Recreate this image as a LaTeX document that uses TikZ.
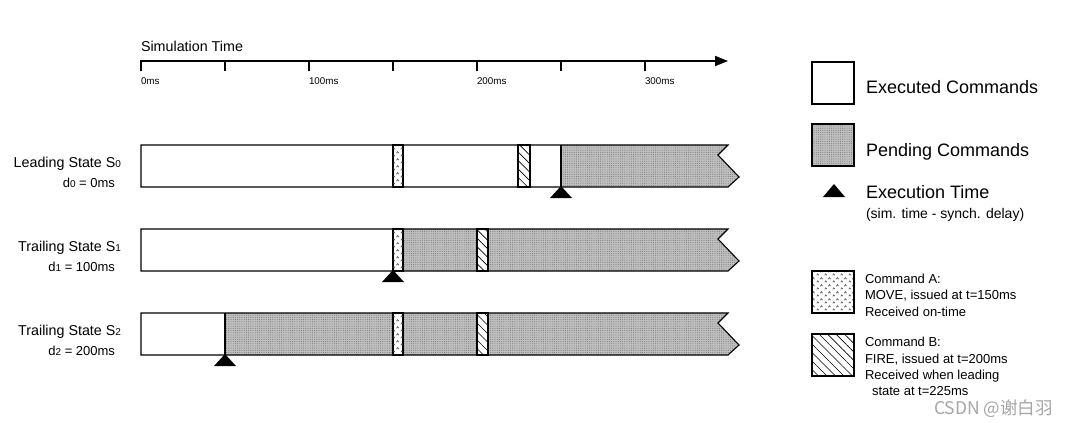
\documentclass[tikz,border=0pt]{standalone}
\usepackage{fontspec}
\setmainfont{Liberation Sans}
\newfontfamily\cjk{Noto Sans CJK SC}
\usetikzlibrary{patterns,patterns.meta,arrows.meta}
\pgfdeclarepatternformonly{caretmarks}{\pgfqpoint{0pt}{0pt}}{\pgfqpoint{8pt}{7pt}}{\pgfqpoint{8pt}{7pt}}{%
  \pgfsetlinewidth{0.6pt}%
  \pgfpathmoveto{\pgfqpoint{0.8pt}{0.8pt}}\pgfpathlineto{\pgfqpoint{2pt}{2.5pt}}\pgfpathlineto{\pgfqpoint{3.2pt}{0.8pt}}%
  \pgfpathmoveto{\pgfqpoint{4.8pt}{4.3pt}}\pgfpathlineto{\pgfqpoint{6pt}{6pt}}\pgfpathlineto{\pgfqpoint{7.2pt}{4.3pt}}%
  \pgfusepath{stroke}}
\newcommand\sbs[1]{{\fontsize{10}{10}\selectfont #1}}
\tikzset{
  x=1pt, y=-1pt,
  txt/.style={inner sep=0pt, outer sep=0pt, anchor=base west},
  rtxt/.style={inner sep=0pt, outer sep=0pt, anchor=base east},
  lab/.style={rtxt, font=\fontsize{14.3}{16}\selectfont},
  dlab/.style={rtxt, font=\fontsize{13}{15}\selectfont},
  ticklab/.style={txt, font=\fontsize{9.8}{11}\selectfont},
  legbig/.style={txt, font=\fontsize{18}{20}\selectfont},
  legsmall/.style={txt, font=\fontsize{14}{16}\selectfont},
  cmdtxt/.style={txt, font=\fontsize{13}{15}\selectfont},
  barline/.style={line width=1.1pt},
  boxline/.style={line width=1.3pt},
  pend/.style={fill=black!25, postaction={pattern={Dots[distance=2.2pt,radius=0.45pt]}, pattern color=black!60}},
  cmdA/.style={fill=white, postaction={pattern=caretmarks, pattern color=black!75}},
  cmdB/.style={fill=white, postaction={pattern={Lines[angle=-45,distance=6pt,line width=0.6pt]}, pattern color=black}},
  barshape/.style={insert path={(141,#1) -- (728,#1) -- (718,#1+10) -- (739,#1+32) -- (728,#1+42) -- (141,#1+42) -- cycle}},
  exmark/.style={fill=black},
}
\begin{document}
\begin{tikzpicture}
\useasboundingbox (0,0) rectangle (1080,423);
\fill[white] (0,0) rectangle (1080,423);

% time axis
\node[txt, font=\fontsize{14.3}{16}\selectfont] (simtime) at (141,51) {Simulation Time};
\coordinate (ax0) at (141,61);
\coordinate (ax1) at (728,61);
\draw[line width=1.8pt, -{Triangle[length=13pt,width=10pt]}] (ax0) -- (ax1);
\foreach \i in {0,...,6} \draw[line width=1.3pt] (141+84*\i,60) -- (141+84*\i,71);
\node[ticklab] (t0) at (141,84) {0ms};
\node[ticklab] (t100) at (309,84) {100ms};
\node[ticklab] (t200) at (477,84) {200ms};
\node[ticklab] (t300) at (645,84) {300ms};

% row labels
\node[lab] (l0) at (121,167) {Leading State S\sbs{0}};
\node[dlab] (d0) at (115,187) {d\sbs{0} = 0ms};
\node[lab] (l1) at (121,251) {Trailing State S\sbs{1}};
\node[dlab] (d1) at (115,271) {d\sbs{1} = 100ms};
\node[lab] (l2) at (121,335) {Trailing State S\sbs{2}};
\node[dlab] (d2) at (115,355) {d\sbs{2} = 200ms};

% bar S0
\begin{scope}
  \clip[barshape=145];
  \path[pend] (561,145) rectangle (745,187);
\end{scope}
\draw[barline,cmdA] (393,145) rectangle (403,187);
\draw[barline,cmdB] (518,145) rectangle (530,187);
\draw[barline] (561,145) -- (561,187);
\draw[barline, line join=miter][barshape=145];
\fill[exmark] (561,186) -- (550,198) -- (572,198) -- cycle;

% bar S1
\begin{scope}
  \clip[barshape=229];
  \path[pend] (403,229) rectangle (745,271);
\end{scope}
\draw[barline,cmdA] (393,229) rectangle (403,271);
\draw[barline,cmdB] (477,229) rectangle (488,271);
\draw[barline, line join=miter][barshape=229];
\fill[exmark] (393,270) -- (382,282) -- (404,282) -- cycle;

% bar S2
\begin{scope}
  \clip[barshape=313];
  \path[pend] (225,313) rectangle (745,355);
\end{scope}
\draw[barline] (225,313) -- (225,355);
\draw[barline,cmdA] (393,313) rectangle (403,355);
\draw[barline,cmdB] (477,313) rectangle (488,355);
\draw[barline, line join=miter][barshape=313];
\fill[exmark] (225,354) -- (214,366) -- (236,366) -- cycle;

% legend
\draw[boxline, fill=white] (812,62) rectangle (854,104);
\node[legbig] (lexe) at (866,93) {Executed Commands};
\draw[boxline, pend] (812,124) rectangle (854,166);
\draw[boxline] (812,124) rectangle (854,166);
\node[legbig] (lpend) at (866,156) {Pending Commands};
\fill[exmark] (834,184) -- (823,197) -- (845,197) -- cycle;
\node[legbig] (ltime) at (866,198) {Execution Time};
\node[legsmall] (ltime2) at (866,218) {(sim. time - synch. delay)};

\draw[boxline, cmdA] (812,271) rectangle (854,313);
\draw[boxline] (812,271) rectangle (854,313);
\node[cmdtxt] (ca1) at (865,283) {Command A:};
\node[cmdtxt] (ca2) at (865,299) {MOVE, issued at t=150ms};
\node[cmdtxt] (ca3) at (865,316) {Received on-time};

\draw[boxline, cmdB] (812,334) rectangle (854,376);
\draw[boxline] (812,334) rectangle (854,376);
\node[cmdtxt] (cb1) at (865,346) {Command B:};
\node[cmdtxt] (cb2) at (865,363) {FIRE, issued at t=200ms};
\node[cmdtxt] (cb3) at (865,379) {Received when leading};
\node[cmdtxt] (cb4) at (872,395) {state at t=225ms};

\node[txt, font=\cjk\fontsize{17.5}{20}\selectfont, text=black!35] (wm) at (934,414) {CSDN @谢白羽};
\end{tikzpicture}
\end{document}
